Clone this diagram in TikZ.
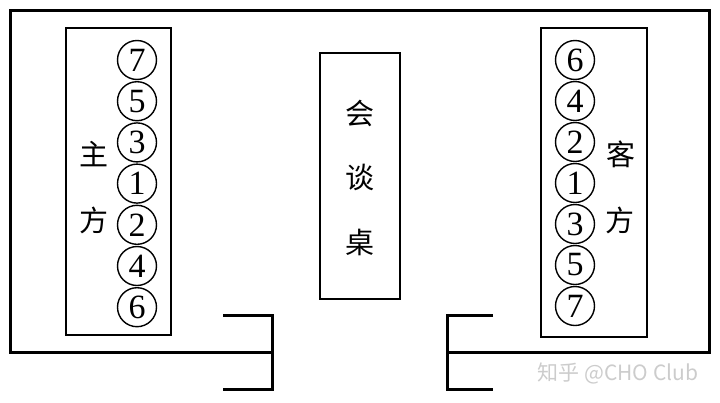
\documentclass[tikz,border=0pt]{standalone}
\usepackage{fontspec}
\setmainfont{Liberation Serif}
\newfontfamily\cjk{Noto Sans CJK SC}
\newfontfamily\wmfont{Noto Sans CJK SC}
\begin{document}
\begin{tikzpicture}[x=1pt,y=-1pt,
  wall/.style={line width=3pt},
  box/.style={draw,line width=2.4pt,inner sep=0pt},
  seat/.style={draw,circle,line width=1.4pt,minimum size=39pt,inner sep=0pt,font=\fontsize{34}{34}\selectfont},
  label/.style={font=\cjk\fontsize{29}{29}\selectfont,inner sep=0pt}]
\useasboundingbox (0,0) rectangle (720,402);
% outer room
\draw[wall] (272,352) -- (10,352) -- (10,10) -- (709,10) -- (709,352) -- (447,352);
% left door
\draw[wall] (223,315) -- (272,315) -- (272,389) -- (223,389);
% right door
\draw[wall] (493,315) -- (447,315) -- (447,389) -- (493,389);
% host side
\node[box,minimum width=105pt,minimum height=307pt] (host) at (118.5,181.5) {};
\node[label] (zhu) at (93.5,154) {主};
\node[label] (fang1) at (93.5,220) {方};
\foreach \n/\k in {7/0,5/1,3/2,1/3,2/4,4/5,6/6}
  \node[seat] (h\n) at (137,{60+41.2*\k}) {\n};
% table
\node[box,minimum width=80pt,minimum height=246pt] (table) at (360,176) {};
\node[label] (hui) at (360,113) {会};
\node[label] (tan) at (360,177) {谈};
\node[label] (zhuo) at (360,242) {桌};
% guest side
\node[box,minimum width=106pt,minimum height=309pt] (guest) at (594,182.5) {};
\node[label] (ke) at (621,154) {客};
\node[label] (fang2) at (620,220) {方};
\foreach \n/\k in {6/0,4/1,2/2,1/3,3/4,5/5,7/6}
  \node[seat] (g\n) at (575,{60+41*\k}) {\n};
% watermark
\node[font=\wmfont\fontsize{21}{21}\selectfont,text=black!20,inner sep=0pt] (wm) at (618,373) {知乎 @CHO Club};
\end{tikzpicture}
\end{document}
